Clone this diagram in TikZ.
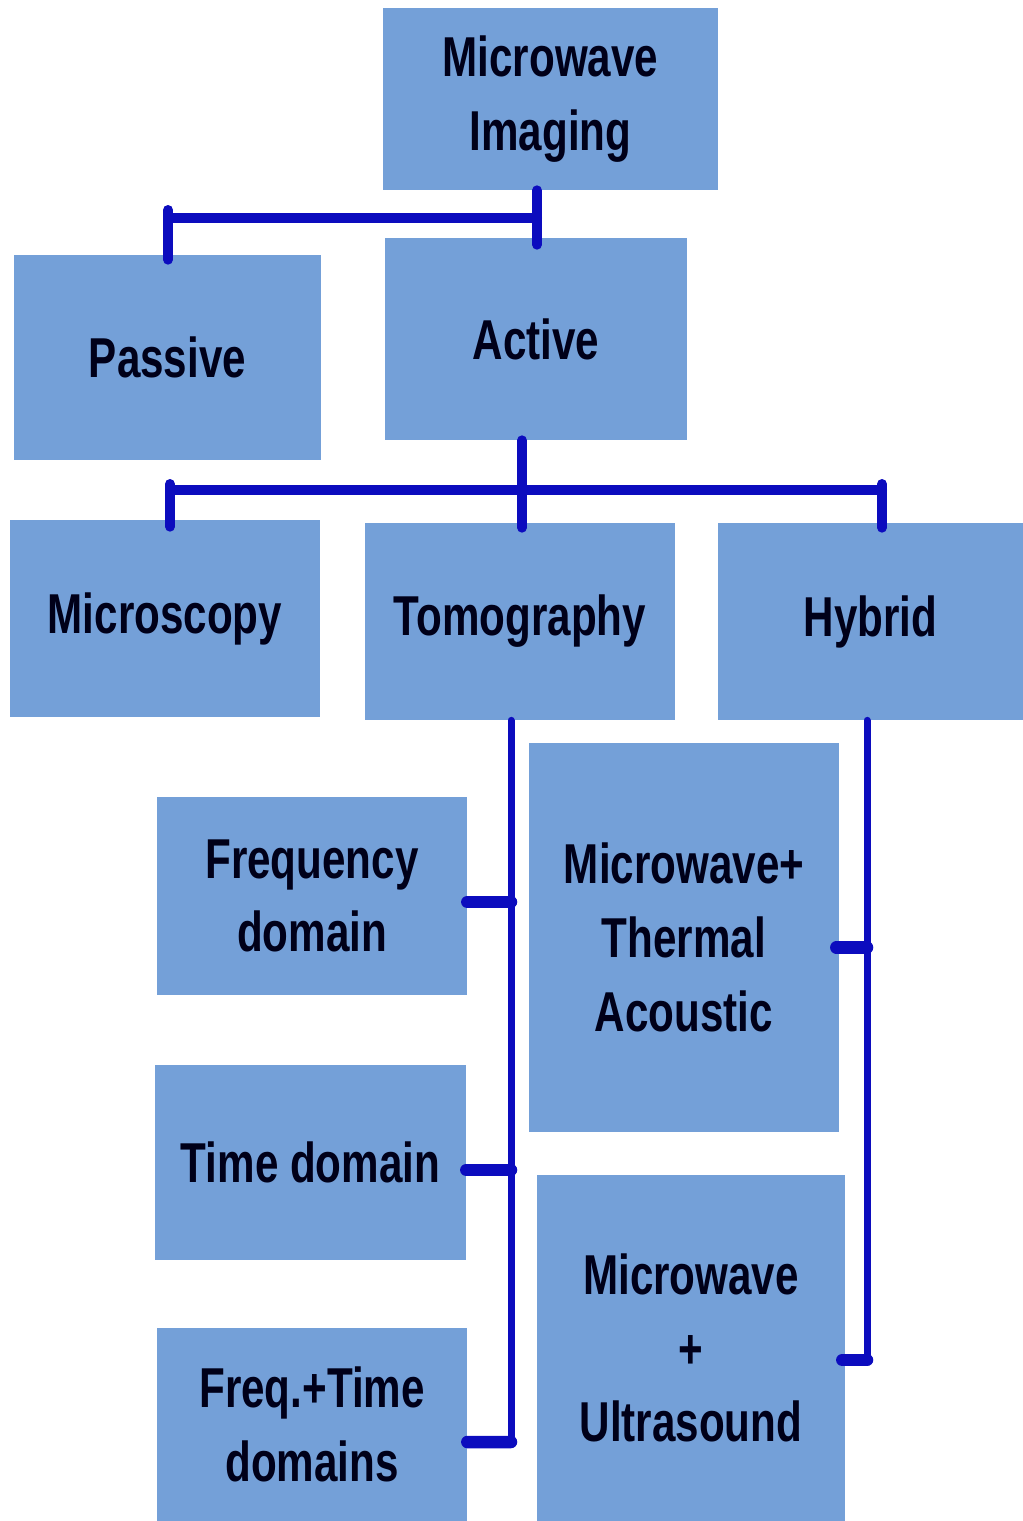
\documentclass[tikz,border=0pt]{standalone}
\usepackage{fontspec}
\setmainfont{Liberation Sans}[FakeStretch=0.75]
\usetikzlibrary{positioning, calc}
\definecolor{boxblue}{RGB}{116,160,216}
\definecolor{linkblue}{RGB}{12,12,190}
\tikzstyle{block} = [rectangle, fill=boxblue, inner sep=0pt, align=center,
    text=black!90!blue, font=\bfseries\fontsize{32}{42}\selectfont]
\tikzstyle{link} = [draw=linkblue, line width=0.2cm, line cap=round]
\tikzstyle{spine} = [draw=linkblue, line width=0.14cm, line cap=round]
\tikzstyle{branch} = [draw=linkblue, line width=0.25cm, line cap=round]

\begin{document}
\begin{tikzpicture}[x=0.02cm, y=-0.02cm]
  \useasboundingbox (0,0) rectangle (1023,1521);
   % Place nodes
    \node [block, minimum width=6.7cm, minimum height=3.64cm] (mi) at (550.5,99) {Microwave\\Imaging};
    \node [block, minimum width=6.14cm, minimum height=4.1cm] (passive) at (167.5,357.5) {Passive};
    \node [block, minimum width=6.04cm, minimum height=4.04cm] (active) at (536,339) {Active};
    \node [block, minimum width=6.2cm, minimum height=3.94cm] (microscopy) at (165,618.5) {Microscopy};
    \node [block, minimum width=6.2cm, minimum height=3.94cm] (tomography) at (520,621.5) {Tomography};
    \node [block, minimum width=6.1cm, minimum height=3.94cm] (hybrid) at (870.5,621.5) {Hybrid};
    \node [block, minimum width=6.2cm, minimum height=3.96cm] (freq) at (312,896) {Frequency\\domain};
    \node [block, minimum width=6.22cm, minimum height=3.9cm] (time) at (310.5,1162.5) {Time domain};
    \node [block, minimum width=6.2cm, minimum height=3.86cm] (ftime) at (312,1424.5) {Freq.+Time\\domains};
    \node [block, minimum width=6.2cm, minimum height=7.78cm] (thermal) at (684,937.5) {Microwave+\\Thermal\\Acoustic};
    \node [block, minimum width=6.16cm, minimum height=6.92cm] (ultra) at (691,1348) {Microwave\\+\\Ultrasound};
   % Junction points
    \coordinate (jmi) at (537,218);
    \coordinate (jp) at (168,218);
    \coordinate (jact) at (522,490);
    \coordinate (jl) at (170,490);
    \coordinate (jr) at (882,490);
    \coordinate (ts) at (511,1442);
    \coordinate (hs) at (867,1360);
   % Draw edges
    \path [link] (mi.south -| jmi) -- ($(active.north -| jmi)+(0,7)$);
    \path [link] (jmi) -- (jp);
    \path [link] ($(jp)+(0,-8)$) -- ($(passive.north -| jp)+(0,5)$);
    \path [link] (active.south -| jact) -- ($(tomography.north -| jact)+(0,5)$);
    \path [link] (jl) -- (jr);
    \path [link] ($(jl)+(0,-6)$) -- ($(microscopy.north -| jl)+(0,7)$);
    \path [link] ($(jr)+(0,-6)$) -- ($(hybrid.north -| jr)+(0,5)$);
    \path [spine] (tomography.south -| ts) -- (ts);
    \path [branch] ($(freq.east)+(0,6)$) -- ($(freq.east -| ts)+(0,6)$);
    \path [branch] ($(time.east)+(0,7.5)$) -- ($(time.east -| ts)+(0,7.5)$);
    \path [branch] ($(ftime.east)+(0,17.5)$) -- (ts);
    \path [spine] (hybrid.south -| hs) -- (hs);
    \path [branch] ($(thermal.east)+(-3,10)$) -- ($(thermal.east -| hs)+(0,10)$);
    \path [branch] ($(ultra.east)+(-3,12)$) -- (hs);
  \end{tikzpicture}
\end{document}
